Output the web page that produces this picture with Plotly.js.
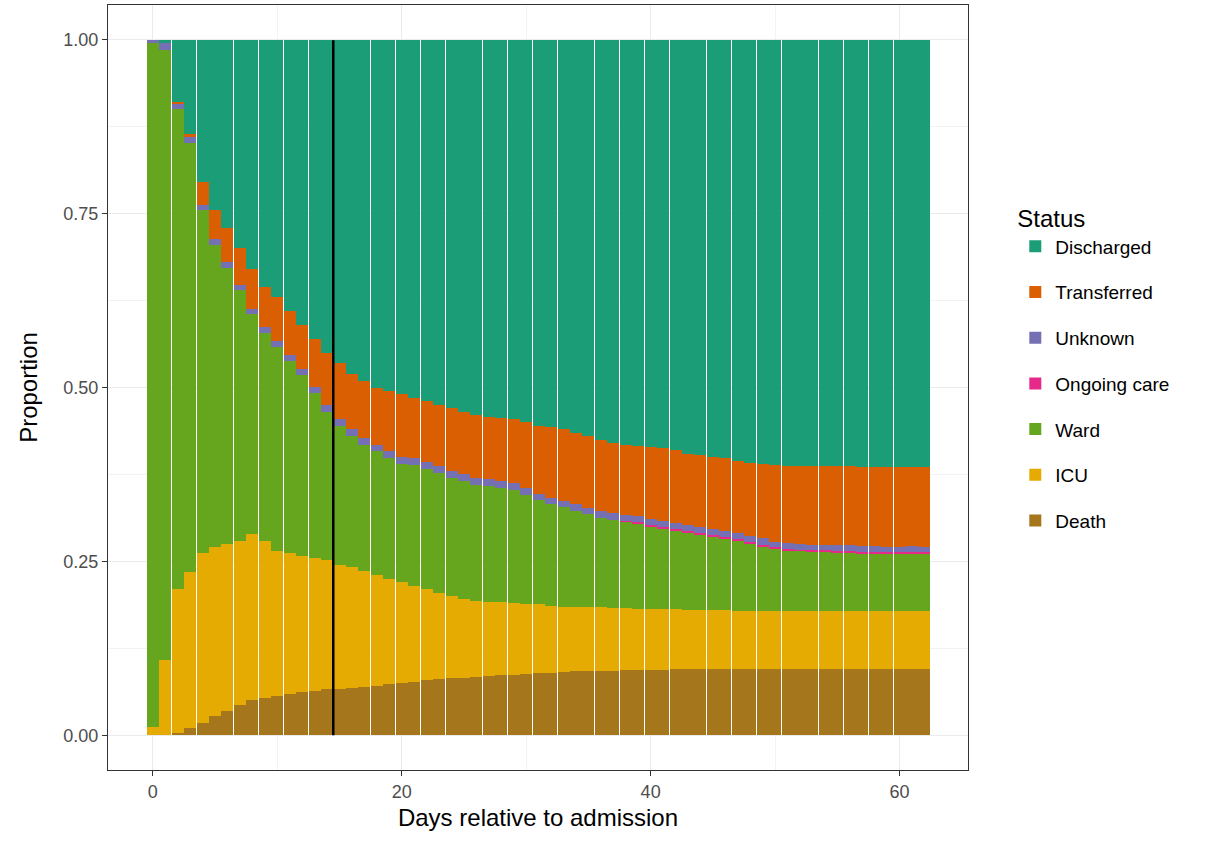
<html>
<head>
<meta charset="utf-8" />
<script src="https://cdn.plot.ly/plotly-3.0.1.min.js"></script>
</head>
<body style="margin:0">
<div id="myDiv" style="width:1228px;height:844px"></div>
<script>
// cumulative proportion read at the top of each band, days 0..62
var days = [];
for (var i = 0; i < 63; i++) days.push(i);

var deathTop = [0,0,0.003,0.01,0.018,0.027,0.035,0.043,0.05,0.053,
  0.057,0.06,0.062,0.064,0.066,0.067,0.068,0.07,0.071,0.073,
  0.075,0.077,0.079,0.081,0.082,0.083,0.084,0.085,0.086,0.087,
  0.088,0.089,0.09,0.091,0.092,0.092,0.093,0.093,0.094,0.094,
  0.094,0.094,0.095,0.095,0.095,0.095,0.095,0.095,0.095,0.095,
  0.095,0.095,0.095,0.095,0.095,0.095,0.095,0.095,0.095,0.095,
  0.095,0.095,0.095];
var icuTop = [0.012,0.108,0.21,0.235,0.262,0.27,0.275,0.28,0.289,0.28,
  0.265,0.262,0.258,0.255,0.252,0.245,0.242,0.236,0.23,0.225,
  0.22,0.214,0.21,0.205,0.2,0.196,0.193,0.192,0.191,0.19,
  0.189,0.188,0.186,0.185,0.185,0.184,0.184,0.183,0.183,0.182,
  0.182,0.181,0.181,0.18,0.18,0.18,0.18,0.179,0.179,0.179,
  0.179,0.179,0.179,0.179,0.179,0.179,0.179,0.179,0.179,0.179,
  0.179,0.179,0.179];
var wardTop = [0.995,0.985,0.9,0.852,0.755,0.705,0.672,0.64,0.605,0.578,
  0.558,0.538,0.518,0.492,0.465,0.445,0.43,0.418,0.408,0.398,
  0.39,0.388,0.383,0.377,0.37,0.365,0.36,0.358,0.355,0.353,
  0.345,0.338,0.332,0.328,0.323,0.318,0.313,0.31,0.307,0.304,
  0.3,0.297,0.294,0.291,0.289,0.286,0.283,0.28,0.276,0.272,
  0.268,0.266,0.265,0.264,0.264,0.263,0.263,0.262,0.262,0.261,
  0.261,0.261,0.26];
var ongoing = [0,0,0,0,0,0,0,0,0,0,
  0,0,0,0,0,0,0,0,0,0,
  0,0,0,0,0,0,0,0,0,0,
  0,0,0,0,0,0,0,0,0.001,0.002,
  0.002,0.002,0.002,0.002,0.002,0.002,0.002,0.002,0.002,0.002,
  0.002,0.002,0.002,0.002,0.002,0.002,0.002,0.002,0.002,0.002,
  0.002,0.003,0.003];
var unknown = [0.005,0.01,0.008,0.008,0.008,0.008,0.008,0.008,0.008,0.009,
  0.009,0.009,0.009,0.009,0.01,0.01,0.01,0.01,0.01,0.01,
  0.01,0.01,0.01,0.01,0.01,0.01,0.01,0.01,0.01,0.01,
  0.01,0.009,0.009,0.009,0.009,0.009,0.009,0.009,0.009,0.009,
  0.009,0.009,0.009,0.009,0.009,0.009,0.009,0.009,0.009,0.009,
  0.008,0.008,0.008,0.008,0.008,0.008,0.008,0.008,0.008,0.008,
  0.008,0.008,0.008];
var transferredTop = [1,0.995,0.91,0.865,0.795,0.755,0.73,0.7,0.67,0.645,
  0.63,0.61,0.59,0.57,0.55,0.535,0.52,0.51,0.5,0.495,
  0.49,0.485,0.48,0.475,0.47,0.465,0.46,0.457,0.456,0.455,
  0.45,0.445,0.443,0.44,0.435,0.43,0.425,0.42,0.418,0.416,
  0.415,0.413,0.41,0.405,0.403,0.4,0.398,0.395,0.392,0.39,
  0.388,0.387,0.387,0.387,0.387,0.387,0.387,0.386,0.386,0.386,
  0.386,0.385,0.385];

var names = ['Death','ICU','Ward','Ongoing care','Unknown','Transferred','Discharged'];
var colors = ['#A6761D','#E6AB02','#66A61E','#E7298A','#7570B3','#D95F02','#1B9E77'];

var series = [[],[],[],[],[],[],[]];
for (var d = 0; d < days.length; d++) {
  var unkTop = wardTop[d] + ongoing[d] + unknown[d];
  series[0].push(deathTop[d]);
  series[1].push(icuTop[d] - deathTop[d]);
  series[2].push(wardTop[d] - icuTop[d]);
  series[3].push(ongoing[d]);
  series[4].push(unknown[d]);
  series[5].push(Math.max(0, transferredTop[d] - unkTop));
  series[6].push(1 - Math.max(transferredTop[d], unkTop));
}

var data = [];
for (var k = 0; k < names.length; k++) {
  data.push({
    x: days, y: series[k], type: 'bar', name: names[k],
    legendgroup: names[k], legendrank: names.length - k,
    marker: {color: colors[k], line: {width: 0}},
    hoverinfo: 'x+y+name'
  });
}

var layout = {
  width: 1228, height: 844,
  barmode: 'stack', bargap: 0.035,
  paper_bgcolor: 'white', plot_bgcolor: 'white',
  margin: {l: 108, r: 260, t: 5, b: 74},
  font: {family: 'Liberation Sans, Arial, sans-serif', color: '#4d4d4d', size: 18},
  xaxis: {
    range: [-3.6, 65.5], tickvals: [0,20,40,60], zeroline: false,
    showgrid: true, gridcolor: '#ebebeb', gridwidth: 1.2,
    minor: {tickvals: [10,30,50], showgrid: true, gridcolor: '#f3f3f3'},
    ticks: 'outside', ticklen: 5, tickcolor: '#333', mirror: true,
    showline: true, linecolor: '#333', linewidth: 1.2,
    title: {text: 'Days relative to admission', font: {size: 24, color: 'black'}, standoff: 8}
  },
  yaxis: {
    range: [-0.05, 1.05], tickvals: [0,0.25,0.5,0.75,1],
    ticktext: ['0.00','0.25','0.50','0.75','1.00'], zeroline: false,
    showgrid: true, gridcolor: '#ebebeb', gridwidth: 1.2,
    minor: {tickvals: [0.125,0.375,0.625,0.875], showgrid: true, gridcolor: '#f3f3f3'},
    ticks: 'outside', ticklen: 5, tickcolor: '#333', mirror: true,
    showline: true, linecolor: '#333', linewidth: 1.2,
    title: {text: 'Proportion', font: {size: 24, color: 'black'}, standoff: 18}
  },
  shapes: [{type: 'line', xref: 'x', yref: 'paper', x0: 14.5, x1: 14.5, y0: 0.0455, y1: 0.954,
    line: {color: 'black', width: 2.5}}],
  legend: {
    x: 1.055, y: 0.75, xanchor: 'left', yanchor: 'top',
    traceorder: 'grouped', tracegroupgap: 18,
    font: {size: 19, color: 'black'},
    title: {text: 'Status', font: {size: 24, color: 'black'}}
  }
};

Plotly.newPlot('myDiv', data, layout, {displayModeBar: false});
</script>
</body>
</html>
